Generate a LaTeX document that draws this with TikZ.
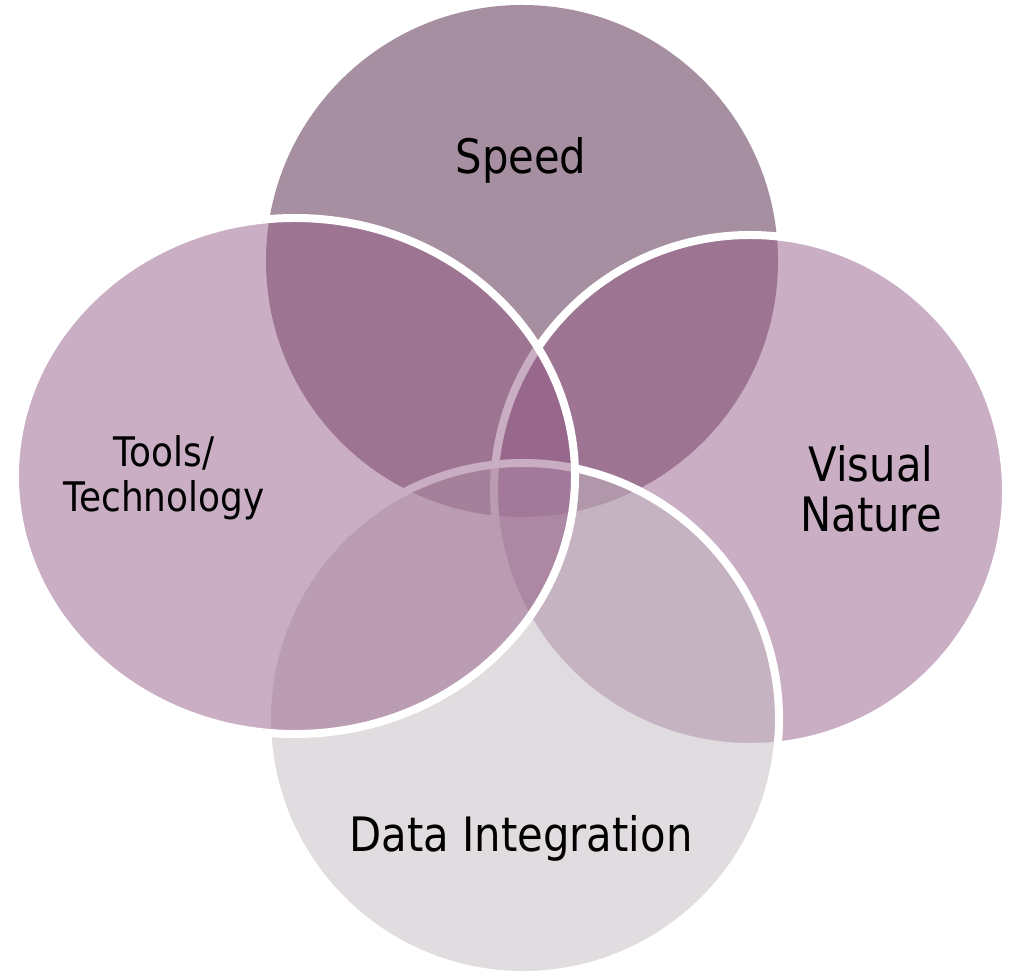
\documentclass[tikz,border=0pt]{standalone}
\usepackage{fontspec}
\setmainfont{DejaVu Sans}[FakeStretch=0.88]
\usepackage{tikz}
\usetikzlibrary{shapes.geometric}

\definecolor{speedfill}{HTML}{A68FA0}
\definecolor{ringfill}{HTML}{955D87}
\definecolor{datafill}{HTML}{C3B9C1}

\begin{document}
\begin{tikzpicture}[x=0.2mm,y=-0.2mm]
			\tikzstyle{bubble} = [circle,minimum size=102.4mm,inner sep=0pt]
			\tikzstyle{ring}   = [fill=ringfill,fill opacity=0.5,draw=white,line width=1.6mm]
			\tikzstyle{word}   = [text=black,align=center,inner sep=0pt,font=\fontsize{27}{28.3}\selectfont]
			
			\useasboundingbox (0,0) rectangle (1009,979);
			
			% circles, back to front
			\node[bubble,fill=speedfill] (speed) at (522,261) {};
			\node[bubble,ring] (visual) at (750,491) {};
			\node[bubble,ring,fill=datafill] (data) at (523,719) {};
			\node[ellipse,ring,inner sep=0pt,minimum width=112mm,minimum height=103.2mm] (tools) at (295,476) {};
			
			% labels
			\node[word,anchor=base] (speedtxt) at (521,174) {Speed};
			\node[word] (visualtxt) at (871,489) {Visual\\Nature};
			\node[word,anchor=base] (datatxt) at (521,851) {Data Integration};
			\node[word,font=\fontsize{23.2}{25.5}\selectfont] (toolstxt) at (164,478) {Tools/\\Technology};
		\end{tikzpicture}
\end{document}
